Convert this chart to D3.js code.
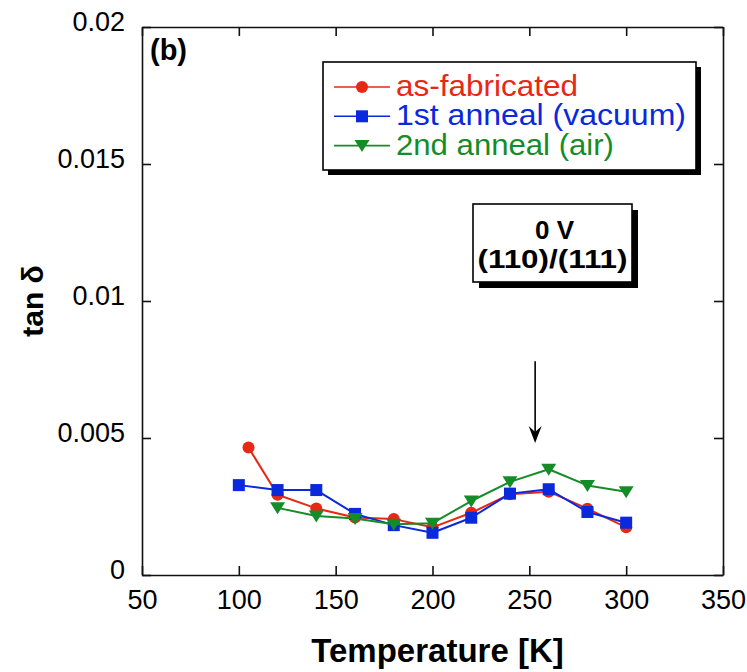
<!DOCTYPE html>
<html>
<head>
<meta charset="utf-8">
<script src="https://cdn.jsdelivr.net/npm/d3@7"></script>
<style>
  body { margin: 0; background: #fff; }
  svg { display: block; font-family: "Liberation Sans", Arial, sans-serif; }
</style>
</head>
<body>
<svg id="here"></svg>
<script>
// data
const tempAsFab = [105, 120, 140, 160, 180, 200, 220, 240, 260, 280, 300];
const tanAsFab  = [0.00465, 0.00293, 0.00243, 0.0021, 0.00204, 0.00174, 0.00227, 0.00295, 0.00304, 0.00242, 0.00174];
const tempVac = [100, 120, 140, 160, 180, 200, 220, 240, 260, 280, 300];
const tanVac  = [0.00328, 0.0031, 0.0031, 0.00223, 0.00182, 0.00154, 0.00209, 0.00297, 0.00313, 0.0023, 0.00191];
const tempAir = [120, 140, 160, 180, 200, 220, 240, 260, 280, 300];
const tanAir  = [0.00245, 0.00215, 0.00206, 0.00185, 0.00189, 0.0027, 0.0034, 0.00386, 0.00327, 0.00304];
const xTicks = [50, 100, 150, 200, 250, 300, 350];
const yTicks = [0, 0.005, 0.01, 0.015, 0.02];
const yTickLabels = ["0", "0.005", "0.01", "0.015", "0.02"];
const seriesNames = ["as-fabricated", "1st anneal (vacuum)", "2nd anneal (air)"];
const arrowAt = {t: 253, from: 0.0078, to: 0.00482};

const width = 747, height = 672;
const margin = {top: 27, right: 24, bottom: 97, left: 142};

const svg = d3.select("#here").attr("width", width).attr("height", height);

const x = d3.scaleLinear().domain([50, 350]).range([margin.left, width - margin.right]);
const y = d3.scaleLinear().domain([0, 0.02]).range([height - margin.bottom, margin.top]);

const series = [
  {name: seriesNames[0], color: "#e62814", shape: "circle", len: 182, pts: tempAsFab.map((t, i) => [t, tanAsFab[i]])},
  {name: seriesNames[1], color: "#0a28dc", shape: "square", len: 290, pts: tempVac.map((t, i) => [t, tanVac[i]])},
  {name: seriesNames[2], color: "#148c28", shape: "tri", len: 218, pts: tempAir.map((t, i) => [t, tanAir[i]])}
];

const marker = (g, s) => {
  if (s.shape === "circle") g.append("circle").attr("r", 6).attr("fill", s.color);
  else if (s.shape === "square") g.append("rect").attr("x", -6).attr("y", -6).attr("width", 12).attr("height", 12).attr("fill", s.color);
  else g.append("path").attr("d", "M-7.5,-5.5L7.5,-5.5L0,6.5Z").attr("fill", s.color);
};

// axes on all four sides, ticks inward
const tk = 9;
svg.append("g").attr("transform", `translate(0,${y(0)})`)
  .call(d3.axisBottom(x).tickValues(xTicks).tickSizeInner(-tk).tickSizeOuter(0).tickPadding(16))
  .call(g => g.selectAll("text").attr("font-size", 27).attr("dy", "0.68em"));
svg.append("g").attr("transform", `translate(0,${y(0.02)})`)
  .call(d3.axisTop(x).tickValues(xTicks).tickSizeInner(-tk).tickSizeOuter(0).tickFormat(""));
svg.append("g").attr("transform", `translate(${x(50)},0)`)
  .call(d3.axisLeft(y).tickValues(yTicks).tickSizeInner(-tk).tickSizeOuter(0).tickPadding(17)
    .tickFormat((d, i) => yTickLabels[i]))
  .call(g => g.selectAll("text").attr("font-size", 27).attr("dy", "0.12em"));
svg.append("g").attr("transform", `translate(${x(350)},0)`)
  .call(d3.axisRight(y).tickValues(yTicks).tickSizeInner(-tk).tickSizeOuter(0).tickFormat(""));
svg.selectAll(".domain, .tick line").attr("stroke", "#111").attr("stroke-width", 1.6);

// axis titles
svg.append("text").attr("x", (x(50) + x(350)) / 2 + 5).attr("y", 662)
  .attr("text-anchor", "middle").attr("font-size", 33).attr("font-weight", "bold")
  .text("Temperature [K]");
svg.append("text").attr("transform", `translate(43,${(y(0) + y(0.02)) / 2}) rotate(-90)`)
  .attr("text-anchor", "middle").attr("font-size", 30).attr("font-weight", "bold")
  .text("tan δ");
svg.append("text").attr("x", 150).attr("y", 60).attr("font-size", 29).attr("font-weight", "bold").text("(b)");

// data
const line = d3.line().x(d => x(d[0])).y(d => y(d[1]));
series.forEach(s => {
  svg.append("path").datum(s.pts).attr("d", line).attr("fill", "none")
    .attr("stroke", s.color).attr("stroke-width", 2).attr("stroke-linejoin", "round");
  s.pts.forEach(p => marker(svg.append("g").attr("transform", `translate(${x(p[0])},${y(p[1])})`), s));
});

// arrow
const ax = x(arrowAt.t), ay0 = y(arrowAt.from), ay1 = y(arrowAt.to);
svg.append("line").attr("x1", ax).attr("x2", ax).attr("y1", ay0).attr("y2", ay1 - 6)
  .attr("stroke", "#000").attr("stroke-width", 1.6);
svg.append("path").attr("d", `M${ax},${ay1}L${ax - 6.5},${ay1 - 17}L${ax},${ay1 - 11}L${ax + 6.5},${ay1 - 17}Z`).attr("fill", "#000");

// legend box
const lg = {x: 323, y: 62, w: 373, h: 108};
svg.append("rect").attr("x", lg.x + 5).attr("y", lg.y + 5).attr("width", lg.w).attr("height", lg.h).attr("fill", "#000");
svg.append("rect").attr("x", lg.x).attr("y", lg.y).attr("width", lg.w).attr("height", lg.h)
  .attr("fill", "#fff").attr("stroke", "#000").attr("stroke-width", 1.6);
series.forEach((s, i) => {
  const ry = lg.y + 25 + i * 29.3;
  svg.append("line").attr("x1", 334).attr("x2", 390).attr("y1", ry).attr("y2", ry)
    .attr("stroke", s.color).attr("stroke-width", 1.6);
  marker(svg.append("g").attr("transform", `translate(362,${ry})`), s);
  svg.append("text").attr("x", 396).attr("y", ry + 9).attr("font-size", 29).attr("fill", s.color)
    .attr("textLength", s.len).attr("lengthAdjust", "spacingAndGlyphs").text(s.name);
});

// annotation box
const ab = {x: 473, y: 204, w: 159, h: 78};
svg.append("rect").attr("x", ab.x + 6).attr("y", ab.y + 6).attr("width", ab.w).attr("height", ab.h).attr("fill", "#000");
svg.append("rect").attr("x", ab.x).attr("y", ab.y).attr("width", ab.w).attr("height", ab.h)
  .attr("fill", "#fff").attr("stroke", "#000").attr("stroke-width", 1.6);
svg.append("text").attr("x", ab.x + ab.w / 2 + 2).attr("y", 239).attr("text-anchor", "middle")
  .attr("font-size", 26).attr("font-weight", "bold").text("0 V");
svg.append("text").attr("x", ab.x + ab.w / 2).attr("y", 268).attr("text-anchor", "middle")
  .attr("font-size", 26).attr("font-weight", "bold")
  .attr("textLength", 150).attr("lengthAdjust", "spacingAndGlyphs").text("(110)/(111)");
</script>
</body>
</html>
